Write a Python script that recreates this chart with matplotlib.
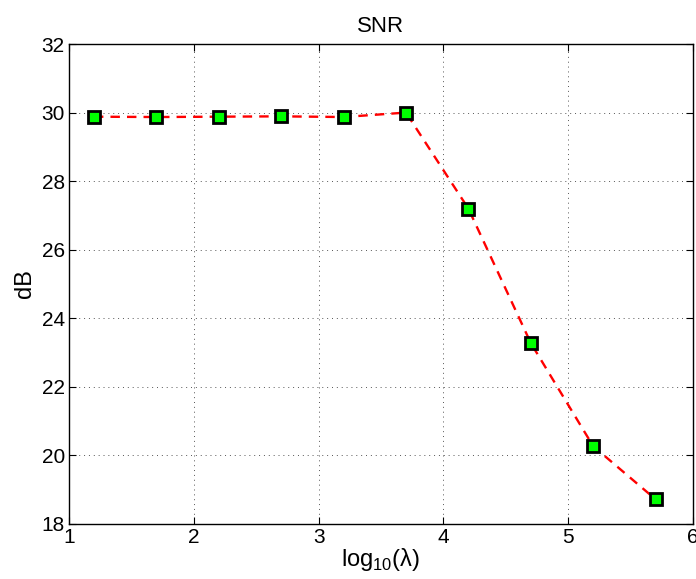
import matplotlib
matplotlib.use("Agg")
import matplotlib.pyplot as plt

# log10(lambda) values and SNR in dB
log_lambda = [1.2, 1.7, 2.2, 2.7, 3.2, 3.7, 4.2, 4.7, 5.2, 5.7]
snr_db = [29.88, 29.87, 29.88, 29.89, 29.87, 30.0, 27.2, 23.28, 20.27, 18.72]

x_ticks = [1, 2, 3, 4, 5, 6]
y_ticks = [18, 20, 22, 24, 26, 28, 30, 32]

plt.rcParams['font.family'] = ['Liberation Sans', 'DejaVu Sans']
plt.rcParams['mathtext.fontset'] = 'custom'
plt.rcParams['mathtext.rm'] = 'Liberation Sans'

fig = plt.figure(figsize=(6.96, 5.79), dpi=100)
ax = fig.add_axes([0.0991, 0.095, 0.8966, 0.829])

ax.plot(log_lambda, snr_db, '--', color='red', linewidth=1.7, dashes=(4, 3),
        marker='s', markersize=9, markerfacecolor='#00ff00',
        markeredgecolor='black', markeredgewidth=2.0)

ax.set_xlim(1, 6)
ax.set_ylim(18, 32)
ax.set_xticks(x_ticks)
ax.set_yticks(y_ticks)
ax.tick_params(direction='in', labelsize=15, length=5, top=True, right=True, pad=3)
ax.grid(True, linestyle=(0, (1, 4)), color='#555555', linewidth=0.7)
for s in ax.spines.values():
    s.set_linewidth(1.0)

ax.set_title('SNR', fontsize=16, pad=9)
ax.set_xlabel(r'log$_{\mathrm{10}}$(λ)', fontsize=17, labelpad=-1)
ax.set_ylabel('dB', fontsize=17, labelpad=4)

fig.savefig('out.png', dpi=100)
